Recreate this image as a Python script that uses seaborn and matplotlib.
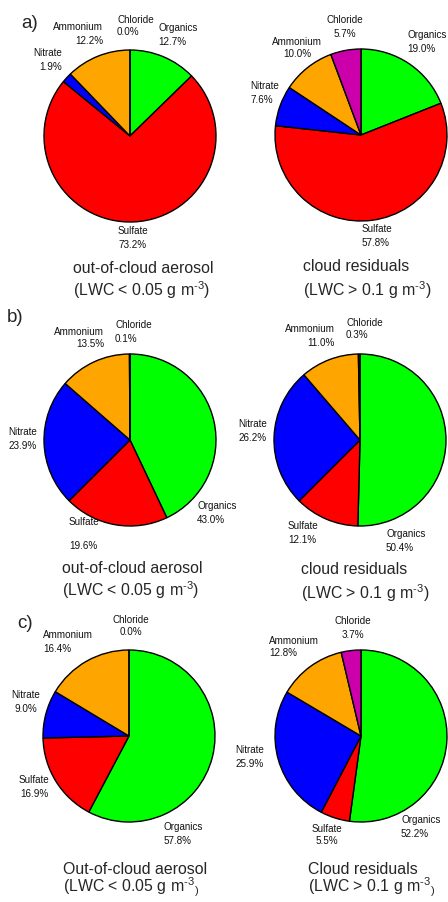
import matplotlib
matplotlib.use("Agg")
import matplotlib.pyplot as plt
import seaborn as sns

# --- data -----------------------------------------------------------------
species = ["Organics", "Sulfate", "Nitrate", "Ammonium", "Chloride"]
species_colors = ["#00FF00", "#FF0000", "#0000FF", "#FFA500", "#CC00AA"]

a_out_of_cloud = [12.7, 73.2, 1.9, 12.2, 0.0]
a_cloud_resid = [19.0, 57.8, 7.6, 10.0, 5.7]
b_out_of_cloud = [43.0, 19.6, 23.9, 13.5, 0.1]
b_cloud_resid = [50.4, 12.1, 26.2, 11.0, 0.3]
c_out_of_cloud = [57.8, 16.9, 9.0, 16.4, 0.0]
c_cloud_resid = [52.2, 5.5, 25.9, 12.8, 3.7]

panel_letters = ["a)", "b)", "c)"]
titles_out = ["out-of-cloud aerosol", "out-of-cloud aerosol", "Out-of-cloud aerosol"]
titles_cloud = ["cloud residuals", "cloud residuals", "Cloud residuals"]
lwc_out = "(LWC < 0.05 g m$^{\u20103}$)"
lwc_cloud = "(LWC > 0.1 g m$^{\u20103}$)"
lwc_out_c = "(LWC < 0.05 g m$^{\u20103}$$_{)}$"
lwc_cloud_c = "(LWC > 0.1 g m$^{\u20103}$$_{)}$"

# --- style ----------------------------------------------------------------
sns.set_theme(style="white")
plt.rcParams["font.family"] = ["Liberation Sans", "DejaVu Sans"]
plt.rcParams["mathtext.default"] = "regular"

W, H = 448, 903
fig = plt.figure(figsize=(W / 100, H / 100), dpi=100)
fig.patch.set_facecolor("white")

R = 86.0          # pie radius in pixels
S = 1.5 * R       # half-size of each pie's axes

# pie centres (pixels from top-left)
centres = [
    [(130, 137), (361, 136)],
    [(130, 441), (360, 441)],
    [(129, 737), (361, 737)],
]
values = [
    [a_out_of_cloud, a_cloud_resid],
    [b_out_of_cloud, b_cloud_resid],
    [c_out_of_cloud, c_cloud_resid],
]

# label placement: species -> (dx px, dy px up, alignment, linespacing)
label_layout = [
    [
        {"Organics": (28, 102, "left", 1.4), "Sulfate": (3, -101, "center", 1.5),
         "Nitrate": (-68, 77, "right", 1.6), "Ammonium": (-27, 103, "right", 1.5),
         "Chloride": (-13, 111, "left", 1.3)},
        {"Organics": (46, 94, "left", 1.4), "Sulfate": (1, -100, "left", 1.4),
         "Nitrate": (-111, 43, "left", 1.6), "Ammonium": (-64, 88, "center", 1.2),
         "Chloride": (-16, 109, "center", 1.4)},
    ],
    [
        {"Organics": (67, -72, "left", 1.4), "Sulfate": (-61, -93, "left", 2.67),
         "Nitrate": (-107, 2, "center", 1.6), "Ammonium": (-26, 103, "right", 1.3),
         "Chloride": (-15, 109, "left", 1.5)},
        {"Organics": (26, -100, "left", 1.5), "Sulfate": (-72, -92, "left", 1.5),
         "Nitrate": (-93, 10, "right", 1.6), "Ammonium": (-25, 105, "right", 1.4),
         "Chloride": (-14, 112, "left", 1.3)},
    ],
    [
        {"Organics": (35, -97, "left", 1.4), "Sulfate": (-95, -50, "center", 1.5),
         "Nitrate": (-103, 35, "center", 1.5), "Ammonium": (-86, 95, "left", 1.4),
         "Chloride": (2, 111, "center", 1.3)},
        {"Organics": (40, -90, "left", 1.4), "Sulfate": (-34, -98, "center", 1.3),
         "Nitrate": (-111, -20, "center", 1.5), "Ammonium": (-92, 90, "left", 1.3),
         "Chloride": (-8, 109, "center", 1.5)},
    ],
]

for row in range(3):
    for col in range(2):
        cx, cy = centres[row][col]
        ax = fig.add_axes([(cx - S) / W, 1 - (cy + S) / H, 2 * S / W, 2 * S / H])
        vals = values[row][col]
        ax.pie(vals, colors=species_colors, startangle=90, counterclock=False,
               radius=1.0, normalize=True,
               wedgeprops=dict(edgecolor="black", linewidth=1.0))
        ax.set_xlim(-S / R, S / R)
        ax.set_ylim(-S / R, S / R)
        ax.set_aspect("equal")
        ax.axis("off")
        for name, v in zip(species, vals):
            dx, dy, al, ls = label_layout[row][col][name]
            ax.text(dx / R, dy / R, f"{name}\n{v:.1f}%", ha=al, va="center",
                    multialignment=al, fontsize=7.1, linespacing=ls,
                    color="#111111", clip_on=False)

# panel letters
letter_pos = [(21, 23), (7, 318), (17, 623)]
for letter, (x, y) in zip(panel_letters, letter_pos):
    fig.text(x / W, 1 - y / H, letter, fontsize=13.5, ha="left", va="center")

# captions: (left x, baseline y) for both lines
caption_pos = [
    [((73, 273), (73, 296)), ((303, 271), (303, 296))],
    [((62, 573), (62, 596)), ((301, 574), (301, 599))],
    [((63, 874), (63, 892)), ((308, 874), (308, 892))],
]
for row in range(3):
    line2 = [lwc_out, lwc_cloud] if row < 2 else [lwc_out_c, lwc_cloud_c]
    line1 = [titles_out[row], titles_cloud[row]]
    for col in range(2):
        (x1, y1), (x2, y2) = caption_pos[row][col]
        fig.text(x1 / W, 1 - y1 / H, line1[col], fontsize=11.4, ha="left", va="baseline")
        fig.text(x2 / W, 1 - y2 / H, line2[col], fontsize=11.4, ha="left", va="baseline")

fig.savefig("out.png", dpi=100, facecolor="white")
